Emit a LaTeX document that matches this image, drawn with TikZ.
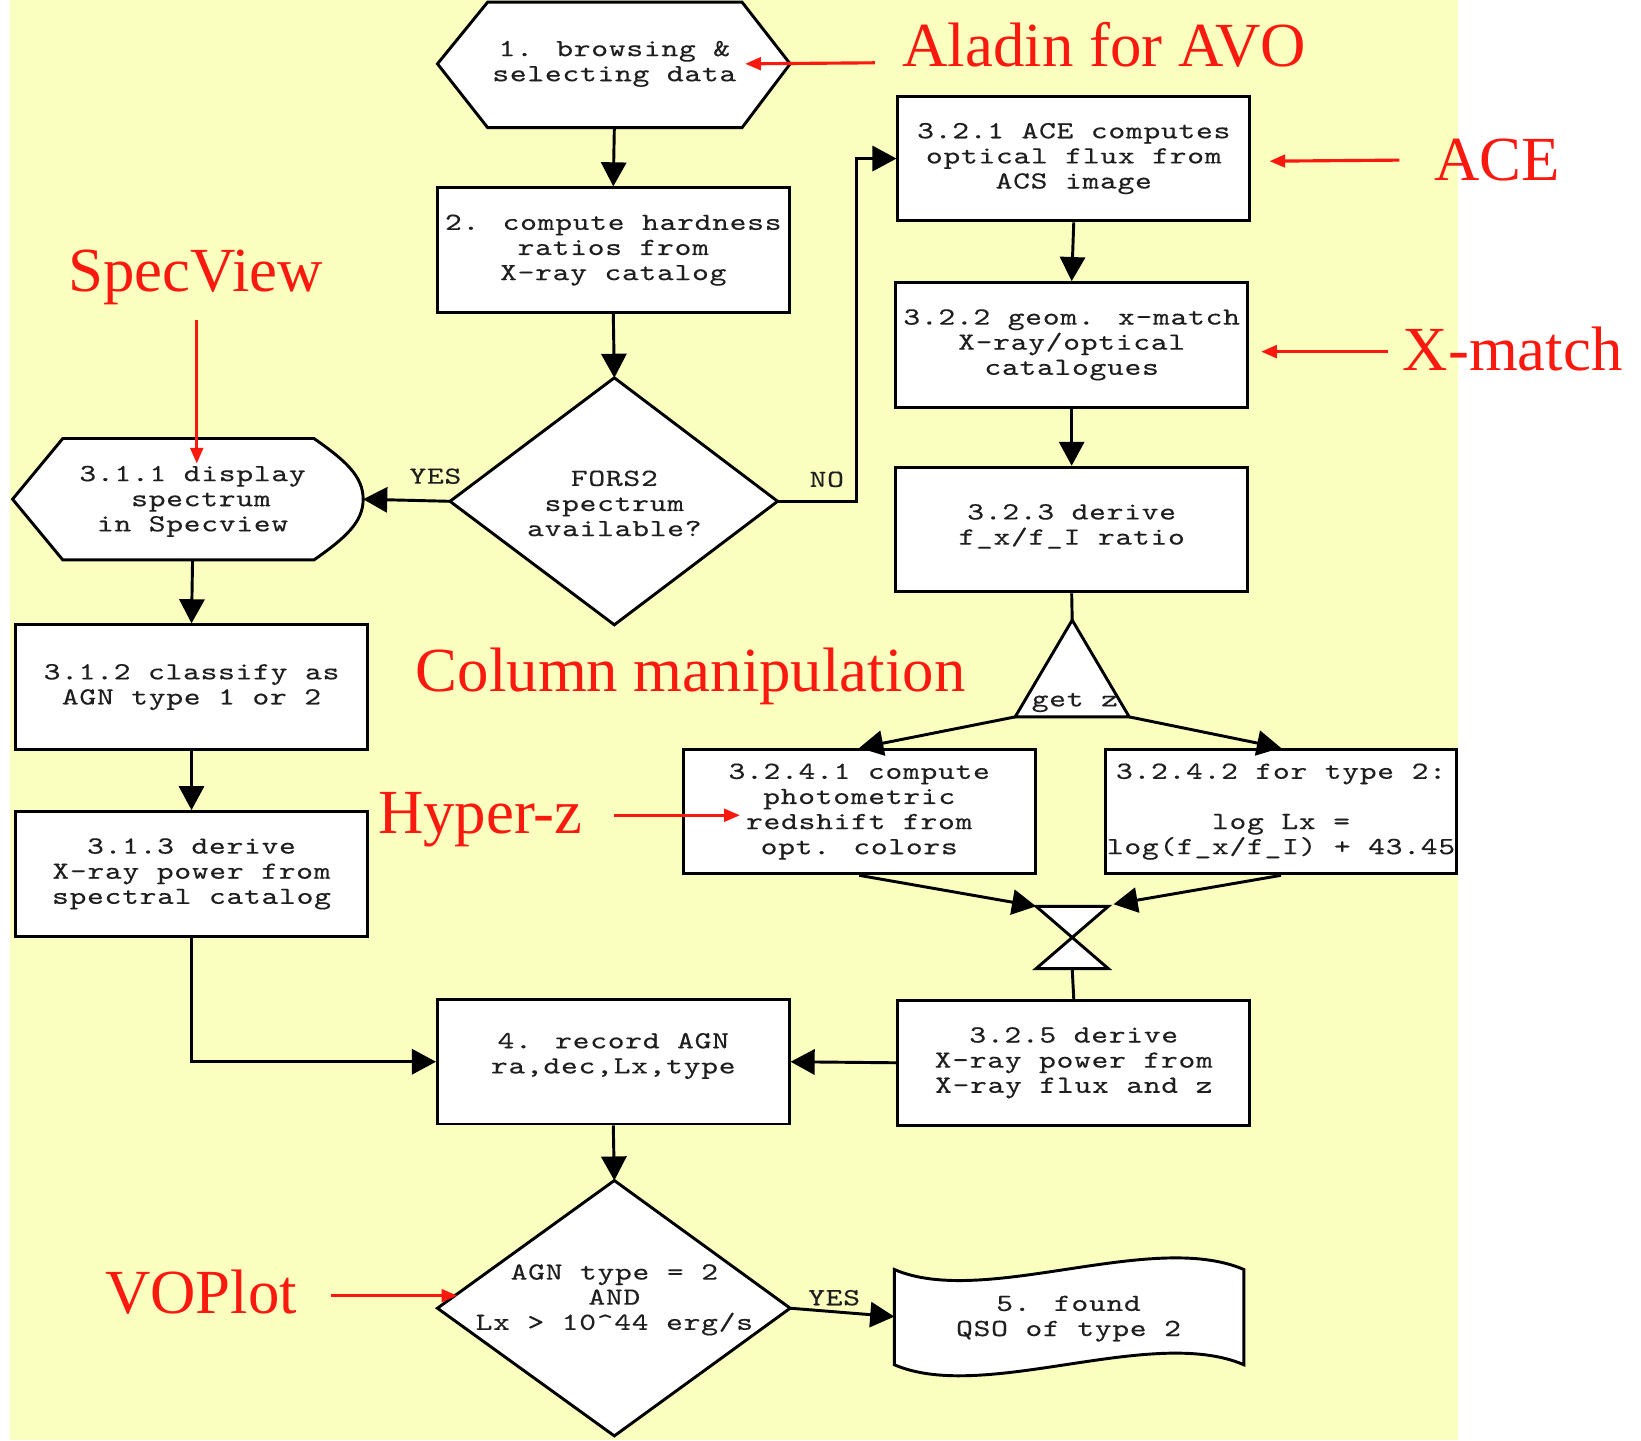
\documentclass[tikz,border=0pt]{standalone}
\usepackage{fontspec}
\setmainfont{Liberation Serif}
\newfontfamily\monofam{lmmono10-regular}[Extension=.otf, FakeStretch=1.3, LetterSpace=3, FakeBold=0.3]
\usetikzlibrary{arrows.meta}
\definecolor{bgyellow}{RGB}{250,254,190}
\definecolor{annred}{RGB}{250,25,15}
\begin{document}
\begin{tikzpicture}[x=0.5pt,y=-0.5pt,
  txt/.style={font=\monofam\fontsize{11.75pt}{12pt}\selectfont, text=black!88, align=center, inner sep=0pt},
  box/.style={txt, draw=black, fill=white, line width=1.4pt, minimum width=168pt, minimum height=59.5pt},
  shp/.style={draw=black, fill=white, line width=1.4pt, line join=miter},
  arr/.style={draw=black, line width=1.4pt, -{Triangle[length=11.5pt,width=12pt]}},
  link/.style={draw=black, line width=1.4pt},
  ann/.style={font=\fontsize{30pt}{30pt}\selectfont, text=annred, anchor=base west, inner sep=0pt},
  rarr/.style={draw=annred, line width=1.5pt, -{Triangle[length=7.5pt,width=6pt]}}
]
% background
\useasboundingbox (0,0) rectangle (1568,1376);
\fill[white] (0,0) rectangle (1568,1376);
\fill[bgyellow] (10,0) rectangle (1393,1376);

% 1. hexagon
\draw[shp] (418,61) -- (466,2) -- (709,2) -- (755,61) -- (709,122) -- (466,122) -- cycle;
\node[txt] (n1) at (587,61) {1. browsing \&\\selecting data};
\coordinate (n1s) at (587,122);

% 2.
\node[box] (n2) at (586,239) {2. compute hardness\\ratios from\\X-ray catalog};

% decision 1
\draw[shp] (587,361) -- (743,479) -- (587,597) -- (430,479) -- cycle;
\node[txt] (d1) at (587,481) {FORS2\\spectrum\\available?};
\coordinate (d1n) at (587,361);
\coordinate (d1w) at (430,479);
\coordinate (d1e) at (743,479);

% 3.1.1
\draw[shp] (12,477) -- (60,419) -- (300,419) .. controls (330,440) and (347,455) .. (347,477)
  .. controls (347,499) and (330,514) .. (300,535) -- (60,535) -- cycle;
\node[txt] (n311) at (184,479) {3.1.1 display\\\hspace*{8pt}spectrum\\in Specview};
\coordinate (n311e) at (347,477);
\coordinate (n311s) at (184,535);

% left column
\node[box] (n312) at (183,656.5) {3.1.2 classify as\\AGN type 1 or 2};
\node[box] (n313) at (183,835) {3.1.3 derive\\X-ray power from\\spectral catalog};

% 4.
\node[box] (n4) at (586,1014.5) {};
\node[txt] (n4t) at (586,1009) {4. record AGN\\ra,dec,Lx,type};

% decision 2
\draw[shp] (587,1128) -- (755,1250) -- (587,1372) -- (418,1250) -- cycle;
\node[txt] (d2) at (587,1242) {AGN type = 2\\AND\\Lx > 10\textasciicircum 44 erg/s};
\coordinate (d2n) at (587,1128);
\coordinate (d2e) at (755,1250);

% 5.
\draw[shp] (854.5,1213) .. controls (940,1250) and (1100,1175) .. (1188.5,1213) -- (1188.5,1304)
  .. controls (1100,1266) and (940,1341) .. (854.5,1304) -- cycle;
\node[txt] (n5) at (1021,1260) {5. found\\QSO of type 2};
\coordinate (n5w) at (854.5,1258);

% right column
\node[box] (n321) at (1026,151.5) {3.2.1 ACE computes\\optical flux from\\ACS image};
\node[box] (n322) at (1024,329.5) {3.2.2 geom. x-match\\X-ray/optical\\catalogues};
\node[box] (n323) at (1024,506) {};
\node[txt] (n323t) at (1024,503) {3.2.3 derive\\f\_x/f\_I ratio};

% get z triangle
\draw[shp] (1024.5,592.5) -- (1079,685) -- (970,685) -- cycle;
\node[txt, anchor=base] (gz) at (1027,675) {get z};
\coordinate (triA) at (1024.5,592.5);
\coordinate (triL) at (970,685);
\coordinate (triR) at (1079,685);

\node[box] (n3241) at (821,775.5) {3.2.4.1 compute\\photometric\\redshift from\\opt. colors};
\node[box] (n3242) at (1224,775.5) {3.2.4.2 for type 2:\\\mbox{}\\log Lx =\\log(f\_x/f\_I) + 43.45};

% hourglass
\draw[shp] (990,866) -- (1059,866) -- (990,925.5) -- (1059,925.5) -- cycle;
\coordinate (hgL) at (990,866);
\coordinate (hgR) at (1064,864);
\coordinate (hgB) at (1024.5,925.5);

\node[box] (n325) at (1026,1015.5) {3.2.5 derive\\X-ray power from\\X-ray flux and z};

% connectors
\draw[arr] (n1s) -- (n2.north);
\draw[arr] (n2.south) -- (d1n);
\draw[arr] (d1w) -- (n311e);
\draw[arr] (d1e) -- ++(75,0) |- (n321.west);
\draw[arr] (n321.south) -- (n322.north);
\draw[arr] (n322.south) -- (n323.north);
\draw[link] (n323.south) -- (triA);
\draw[arr] (triL) -- (n3241.north);
\draw[arr] (triR) -- (n3242.north);
\draw[arr] (n3241.south) -- (hgL);
\draw[arr] (n3242.south) -- (hgR);
\draw[link] (hgB) -- (n325.north);
\draw[arr] (n325.west) -- (n4.east);
\draw[arr] (n311s) -- (n312.north);
\draw[arr] (n312.south) -- (n313.north);
\draw[arr] (n313.south) |- (n4.west);
\draw[arr] (n4.south) -- (d2n);
\draw[arr] (d2e) -- (n5w);

% edge labels
\node[txt] (yes1) at (416,455) {YES};
\node[txt] (no1) at (790,458) {NO};
\node[txt] (yes2) at (797,1240) {YES};

% annotations
\node[ann] (aAladin) at (862,64) {Aladin for AVO};
\coordinate (aAladinT) at (836,60);
\coordinate (aAladinH) at (712,61);
\draw[rarr] (aAladinT) -- (aAladinH);

\node[ann] (aACE) at (1370,172) {ACE};
\coordinate (aACET) at (1337,153);
\coordinate (aACEH) at (1213,154);
\draw[rarr] (aACET) -- (aACEH);

\node[ann] (aSV) at (65,279) {SpecView};
\coordinate (aSVT) at (188,306);
\coordinate (aSVH) at (188,443);
\draw[rarr] (aSVT) -- (aSVH);

\node[ann] (aXm) at (1340,354) {X-match};
\coordinate (aXmT) at (1326,336);
\coordinate (aXmH) at (1205,336);
\draw[rarr] (aXmT) -- (aXmH);

\node[ann] (aCol) at (397,661) {Column manipulation};

\node[ann] (aHz) at (361,796) {Hyper-z};
\coordinate (aHzT) at (587,779);
\coordinate (aHzH) at (707,779);
\draw[rarr] (aHzT) -- (aHzH);

\node[ann] (aVO) at (100,1255) {VOPlot};
\coordinate (aVOT) at (316,1238);
\coordinate (aVOH) at (437,1238);
\draw[rarr] (aVOT) -- (aVOH);
\end{tikzpicture}
\end{document}
